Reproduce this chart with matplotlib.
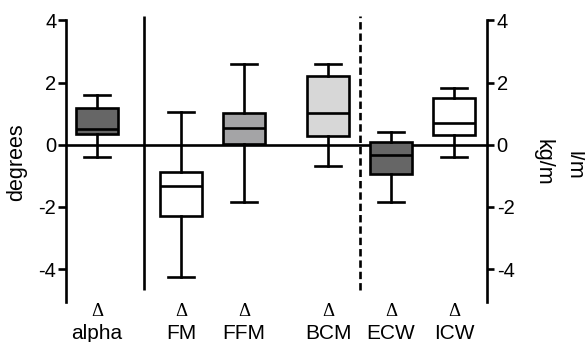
import matplotlib
matplotlib.use("Agg")
import matplotlib.pyplot as plt

plt.rcParams["font.family"] = ["Liberation Sans", "DejaVu Sans"]

# box statistics
labels = ["alpha", "FM", "FFM", "BCM", "ECW", "ICW"]
whislo = [-0.40, -4.24, -1.83, -0.68, -1.83, -0.39]
q1 = [0.35, -2.29, 0.02, 0.29, -0.94, 0.31]
med = [0.50, -1.33, 0.55, 1.03, -0.33, 0.71]
q3 = [1.17, -0.87, 1.01, 2.21, 0.10, 1.49]
whishi = [1.60, 1.04, 2.59, 2.59, 0.40, 1.81]
fills = ["#666666", "white", "#a4a4a6", "#d7d7d7", "#666666", "white"]

positions = [0, 4, 7, 11, 14, 17]
yticks = [-4, -2, 0, 2, 4]

fig = plt.figure(figsize=(5.85, 3.42), dpi=100)
ax = fig.add_axes([66 / 585, 40.3 / 342, 421 / 585, 285.7 / 342])

stats = []
for i in range(len(labels)):
    stats.append({"label": labels[i], "whislo": whislo[i], "q1": q1[i],
                  "med": med[i], "q3": q3[i], "whishi": whishi[i]})

lw = 1.9
bp = ax.bxp(stats, positions=positions, widths=2.0, capwidths=1.24,
            showfliers=False, patch_artist=True,
            boxprops=dict(linewidth=lw, edgecolor="black"),
            whiskerprops=dict(linewidth=lw, color="black"),
            capprops=dict(linewidth=lw, color="black"),
            medianprops=dict(linewidth=lw, color="black"),
            zorder=3)
for patch, c in zip(bp["boxes"], fills):
    patch.set_facecolor(c)

ax.axhline(0, color="black", linewidth=lw, zorder=1)
ax.vlines(2.25, -4.67, 4.14, color="black", linewidth=lw)
ax.vlines(12.5, -4.67, 4.14, color="black", linewidth=lw,
          linestyles=(0, (2.8, 1.5)))

ax.set_xlim(-1.48, 18.57)
ax.set_ylim(-5.05, 4.14)

for side in ["top", "bottom"]:
    ax.spines[side].set_visible(False)
for side in ["left", "right"]:
    ax.spines[side].set_linewidth(lw)
    ax.spines[side].set_bounds(-5.05, 4)

ax.set_yticks(yticks)
ax.set_yticklabels([str(t) for t in yticks])
ax.tick_params(axis="y", which="both", direction="out", length=6, width=lw,
               labelsize=14.5, pad=1, right=True, labelright=True)
for t in ax.yaxis.get_major_ticks():
    t.tick2line.set_markersize(5)
ax.set_xticks([])

for p, lab in zip(positions, labels):
    ax.text(p, -5.50, "Δ", ha="center", va="baseline", fontsize=13.5,
            family=["Liberation Serif", "DejaVu Serif"])
    ax.text(p, -6.25, lab, ha="center", va="baseline", fontsize=15)

fig.text(17 / 585, 1 - 162 / 342, "degrees", rotation=90, ha="center",
         va="center", fontsize=15.5)
fig.text(543 / 585, 1 - 162 / 342, "kg/m", rotation=270, ha="center",
         va="center", fontsize=15.5)
fig.text(574 / 585, 1 - 165 / 342, "l/m", rotation=270, ha="center",
         va="center", fontsize=15.5)

fig.savefig("out.png", dpi=100)
